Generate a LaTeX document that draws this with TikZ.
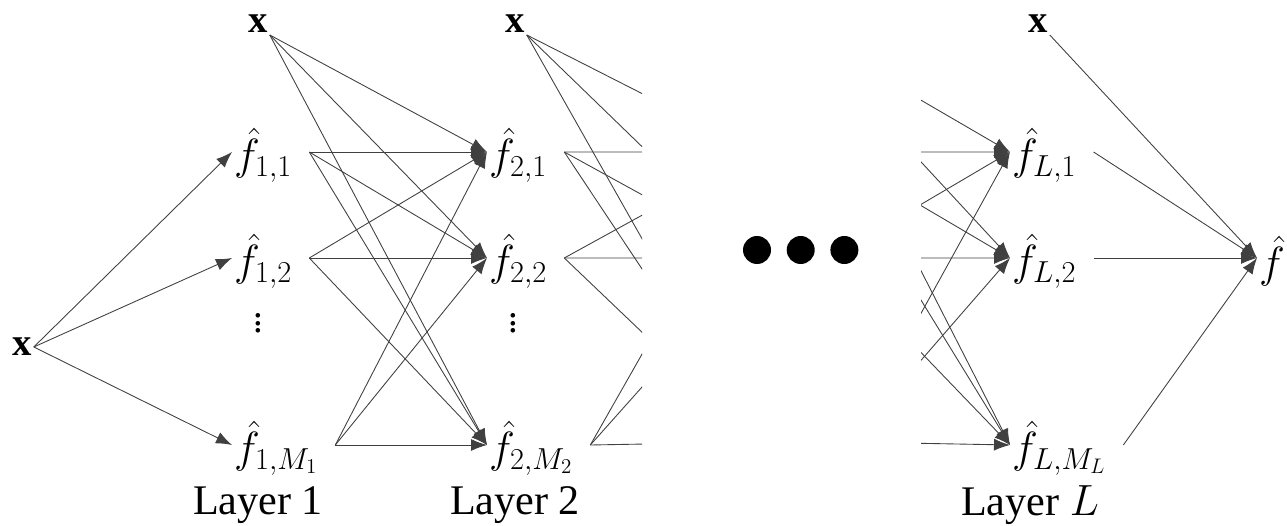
\documentclass[tikz,border=0pt]{standalone}
\usepackage{fontspec}
\setmainfont{Liberation Serif}
\usetikzlibrary{arrows.meta,positioning}

\begin{document}
\begin{tikzpicture}[
  x=0.02cm, y=-0.02cm,
  fn/.style={anchor=west, inner sep=1pt, font=\fontsize{26}{30}\selectfont},
  inp/.style={inner sep=1pt, font=\fontsize{22}{26}\selectfont},
  lbl/.style={font=\fontsize{24}{28}\selectfont},
  wire/.style={line width=0.5pt, black!75},
  arr/.style={wire, -{Latex[length=0.32cm, width=0.24cm]}},
  bigdot/.style={circle, fill=black, inner sep=0pt, minimum size=0.56cm}
]
  \useasboundingbox (0,0) rectangle (1287,526);
  % input and layer 1
  \node[inp] (x0) at (22,347) {$\mathbf{x}$};
  \node[inp] (xa) at (258,24) {$\mathbf{x}$};
  \node[fn] (a1) at (232,155) {$\hat{f}_{1,1}$};
  \node[fn] (a2) at (232,261) {$\hat{f}_{1,2}$};
  \node[inp] (av) at (258,318) {$\vdots$};
  \node[fn] (a3) at (232,448) {$\hat{f}_{1,M_1}$};
  \node[lbl] (la) at (258,505) {Layer 1};
  % layer 2
  \node[inp] (xb) at (515,24) {$\mathbf{x}$};
  \node[fn] (b1) at (487,155) {$\hat{f}_{2,1}$};
  \node[fn] (b2) at (487,261) {$\hat{f}_{2,2}$};
  \node[inp] (bv) at (513,318) {$\vdots$};
  \node[fn] (b3) at (487,448) {$\hat{f}_{2,M_2}$};
  \node[lbl] (lb) at (515,505) {Layer 2};
  % dots between the layers
  \node[bigdot] (d1) at (757,250) {};
  \node[bigdot, right=0.3cm of d1] (d2) {};
  \node[bigdot, right=0.3cm of d2] (d3) {};
  % layer L and output
  \node[inp] (xl) at (1038,24) {$\mathbf{x}$};
  \node[fn] (l1) at (1010,155) {$\hat{f}_{L,1}$};
  \node[fn] (l2) at (1010,261) {$\hat{f}_{L,2}$};
  \node[fn] (l3) at (1010,448) {$\hat{f}_{L,M_L}$};
  \node[lbl] (ll) at (1030,505) {Layer $L$};
  \node[fn] (o) at (1257,261) {$\hat{f}$};
  % hidden layers behind the cut
  \coordinate (c1) at (757,152);
  \coordinate (c2) at (757,258);
  \coordinate (c3) at (757,442);
  \coordinate (p0) at (797,28);
  \coordinate (p1) at (830,152);
  \coordinate (p2) at (830,258);
  \coordinate (p3) at (850,442);
  \foreach \n in {a1,a2,a3,b1,b2,b3,l1,l2,l3}
    \coordinate (\n-o) at ([xshift=0.3cm, yshift=0.06cm]\n.east);

  \foreach \t in {a1,a2,a3}
    \draw[arr] (x0.east) -- ([yshift=0.06cm]\t.west);
  \foreach \s in {xa.south east,a1-o,a2-o,a3-o}
    \foreach \t in {b1,b2,b3}
      \draw[arr] (\s) -- ([yshift=0.06cm]\t.west);
  \begin{scope}
    \clip (0,0) rectangle (642,526);
    \foreach \s in {xb.south east,b1-o,b2-o,b3-o}
      \foreach \t in {c1,c2,c3}
        \draw[wire] (\s) -- (\t);
  \end{scope}
  \begin{scope}
    \clip (921,0) rectangle (1287,526);
    \foreach \s in {p0,p1,p2,p3}
      \foreach \t in {l1,l2,l3}
        \draw[arr] (\s) -- ([yshift=0.06cm]\t.west);
  \end{scope}
  \foreach \s in {xl.south east,l1-o,l2-o,l3-o}
    \draw[arr] (\s) -- ([yshift=0.06cm]o.west);
\end{tikzpicture}
\end{document}
